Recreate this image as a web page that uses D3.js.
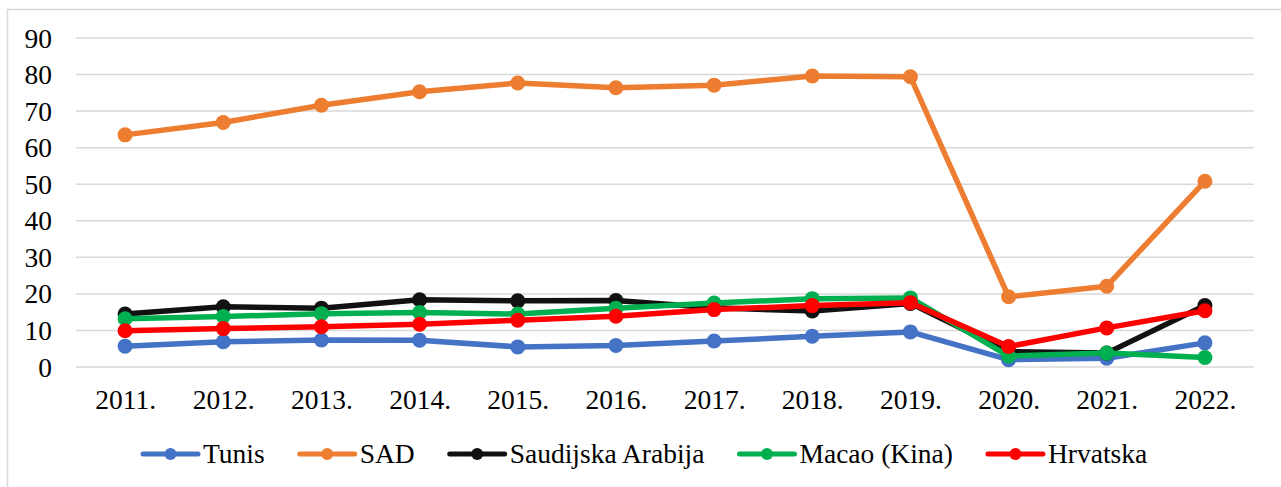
<!DOCTYPE html>
<html>
<head>
<meta charset="utf-8">
<script src="https://cdn.jsdelivr.net/npm/d3@7"></script>
<style>
  body { margin: 0; background: #fff; }
  svg { display: block; }
  svg text { font-family: "Liberation Serif", "Times New Roman", serif; }
</style>
</head>
<body>
<div id="container"></div>
<script>
const years = ["2011.", "2012.", "2013.", "2014.", "2015.", "2016.", "2017.", "2018.", "2019.", "2020.", "2021.", "2022."];
const yTicks = [0, 10, 20, 30, 40, 50, 60, 70, 80, 90];

const seriesNames = ["Tunis", "SAD", "Saudijska Arabija", "Macao (Kina)", "Hrvatska"];
const seriesColors = ["#4472C4", "#ED7D31", "#111111", "#00B050", "#FF0000"];

const tunis = [5.7, 6.9, 7.4, 7.3, 5.5, 5.9, 7.1, 8.4, 9.6, 2.0, 2.4, 6.6];
const sad = [63.5, 66.9, 71.6, 75.3, 77.7, 76.4, 77.1, 79.6, 79.4, 19.2, 22.1, 50.8];
const saudijska = [14.5, 16.5, 16.1, 18.4, 18.1, 18.2, 16.2, 15.3, 17.4, 4.2, 3.8, 16.8];
const macao = [13.2, 13.8, 14.6, 14.9, 14.5, 16.1, 17.5, 18.7, 18.9, 3.0, 3.8, 2.6];
const hrvatska = [9.9, 10.5, 11.0, 11.7, 12.8, 13.9, 15.7, 16.8, 17.6, 5.6, 10.7, 15.4];

const allSeries = [tunis, sad, saudijska, macao, hrvatska];

const W = 1281, H = 487;
const fontSize = 27.5;
const svg = d3.select("#container").append("svg")
    .attr("width", W).attr("height", H);

// chart area border
svg.append("rect")
    .attr("x", 7.5).attr("y", 9.5)
    .attr("width", W + 20).attr("height", H + 20)
    .attr("fill", "none").attr("stroke", "#d9d9d9").attr("stroke-width", 1.5);

const x = d3.scalePoint().domain(years).range([76, 1254]).padding(0.5);
const y = d3.scaleLinear().domain([0, 90]).range([367, 38]);

// gridlines
svg.append("g").selectAll("line")
    .data(yTicks)
    .join("line")
    .attr("x1", 76).attr("x2", 1254)
    .attr("y1", d => y(d)).attr("y2", d => y(d))
    .attr("stroke", "#d9d9d9").attr("stroke-width", 1.5);

// y axis labels
const yAxis = svg.append("g")
    .attr("transform", "translate(62,0)")
    .call(d3.axisLeft(y).tickValues(yTicks).tickSize(0).tickPadding(10));
yAxis.attr("font-family", null);
yAxis.select(".domain").remove();
yAxis.selectAll("text")
    .attr("font-size", fontSize).attr("fill", "#000").attr("dy", "0.33em");

// x axis labels
const xAxis = svg.append("g")
    .attr("transform", "translate(0,367)")
    .call(d3.axisBottom(x).tickSize(0).tickPadding(22));
xAxis.attr("font-family", null);
xAxis.select(".domain").remove();
xAxis.selectAll("text")
    .attr("font-size", fontSize).attr("fill", "#000");

// lines
const line = d3.line().x((d, i) => x(years[i])).y(d => y(d));

allSeries.forEach((vals, k) => {
    const g = svg.append("g");
    g.append("path")
        .datum(vals)
        .attr("d", line)
        .attr("fill", "none")
        .attr("stroke", seriesColors[k])
        .attr("stroke-width", 5.5)
        .attr("stroke-linejoin", "round");
    g.selectAll("circle")
        .data(vals)
        .join("circle")
        .attr("cx", (d, i) => x(years[i]))
        .attr("cy", d => y(d))
        .attr("r", 7.5)
        .attr("fill", seriesColors[k]);
});

// legend
const legend = svg.append("g");
let lx = 143;
const ly = 454;
seriesNames.forEach((name, k) => {
    const item = legend.append("g");
    item.append("line")
        .attr("x1", lx).attr("x2", lx + 55)
        .attr("y1", ly).attr("y2", ly)
        .attr("stroke", seriesColors[k]).attr("stroke-width", 5)
        .attr("stroke-linecap", "round");
    item.append("circle")
        .attr("cx", lx + 27.5).attr("cy", ly).attr("r", 6)
        .attr("fill", seriesColors[k]);
    const t = item.append("text")
        .attr("x", lx + 60).attr("y", ly + 9)
        .attr("font-size", fontSize).attr("fill", "#000")
        .text(name);
    lx = lx + 60 + t.node().getComputedTextLength() + 35;
});
</script>
</body>
</html>
